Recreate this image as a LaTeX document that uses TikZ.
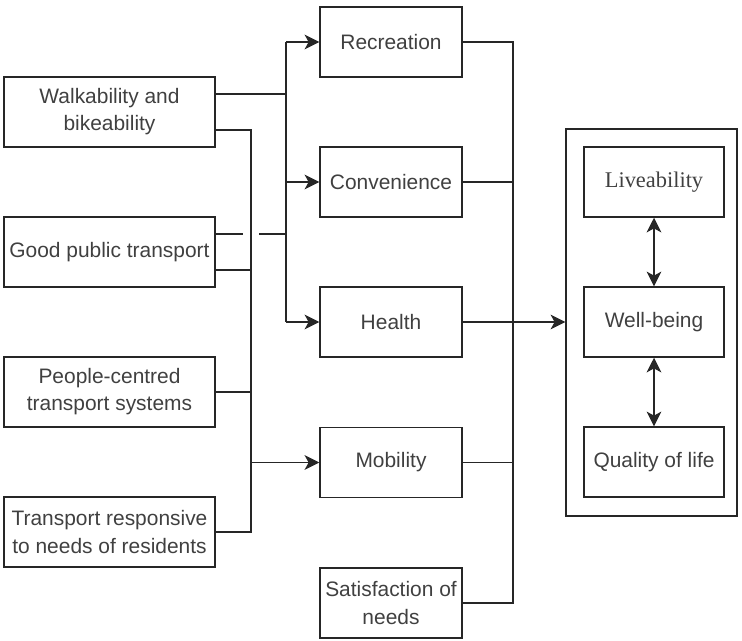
\documentclass[tikz,border=0pt]{standalone}
\usepackage{fontspec}
\setmainfont{Liberation Sans}
\newfontfamily\serifface{Liberation Serif}
\usetikzlibrary{arrows.meta,calc}
\begin{document}
\begin{tikzpicture}[x=0.75pt,y=-0.75pt,
  box/.style={draw=black!85,line width=1.1pt,inner sep=0pt,align=center,
    text=black!75,font=\fontsize{15.7}{20.3}\selectfont},
  lbox/.style={box,minimum width=158.25pt,minimum height=52.5pt},
  mbox/.style={box,minimum width=106.5pt,minimum height=52.5pt},
  ibox/.style={box,minimum width=105pt,minimum height=52.5pt},
  wire/.style={draw=black!85,line width=1.1pt},
  arr/.style={wire,-{Stealth[length=11pt,width=11pt,inset=3pt]}},
  darr/.style={wire,{Stealth[length=11pt,width=11pt,inset=3pt]}-{Stealth[length=11pt,width=11pt,inset=3pt]}}]
\useasboundingbox (0,0) rectangle (742,640);
% left column
\node[lbox] (wal) at (109.5,112) {Walkability and\\bikeability};
\node[lbox] (gpt) at (109.5,252) {Good public transport};
\node[lbox] (pct) at (109.5,392) {People-centred\\transport systems};
\node[lbox] (trn) at (109.5,532) {Transport responsive\\to needs of residents};
% middle column
\node[mbox] (rec) at (391,42) {Recreation};
\node[mbox] (con) at (391,182) {Convenience};
\node[mbox] (hea) at (391,322) {Health};
\node[mbox] (mob) at (391,462.5) {Mobility};
\node[mbox] (sat) at (391,603) {Satisfaction of\\needs};
% right container
\node[draw=black!85,line width=1.1pt,minimum width=128.25pt,minimum height=290.25pt,inner sep=0pt] (cont) at (651.5,322.5) {};
\node[ibox,font=\serifface\fontsize{16.8}{20}\selectfont] (liv) at (654,182) {Liveability};
\node[ibox] (wel) at (654,322) {Well-being};
\node[ibox] (qol) at (654,462) {Quality of life};
\draw[darr] (liv) -- (wel);
\draw[darr] (wel) -- (qol);
% left connectors
\coordinate (walA) at ($(wal.north east)!0.25!(wal.south east)$);
\coordinate (walB) at ($(wal.north east)!0.75!(wal.south east)$);
\coordinate (gptA) at ($(gpt.north east)!0.25!(gpt.south east)$);
\coordinate (gptB) at ($(gpt.north east)!0.75!(gpt.south east)$);
\coordinate (busA) at (286,0);
\coordinate (busB) at (251,0);
\draw[wire] (walA) -- (walA -| busA);
\draw[wire] (busA |- rec.west) -- (busA |- hea.west);
\draw[arr] (busA |- rec.west) -- (rec.west);
\draw[arr] (busA |- con.west) -- (con.west);
\draw[arr] (busA |- hea.west) -- (hea.west);
\draw[wire] (gptA) -- ([xshift=-6pt]gptA -| busB);
\draw[wire] ([xshift=6pt]gptA -| busB) -- (gptA -| busA);
\draw[wire] (walB) -- (walB -| busB) -- (trn.east -| busB) -- (trn.east);
\draw[wire] (gptB) -- (gptB -| busB);
\draw[wire] (pct.east) -- (pct.east -| busB);
\draw[arr] (mob.west -| busB) -- (mob.west);
% right connectors
\coordinate (busC) at (513,0);
\draw[wire] (rec.east) -- (rec.east -| busC) -- (sat.east -| busC) -- (sat.east);
\draw[wire] (con.east) -- (con.east -| busC);
\draw[wire] (mob.east) -- (mob.east -| busC);
\draw[arr] (hea.east) -- (hea.east -| cont.west);
\end{tikzpicture}
\end{document}
